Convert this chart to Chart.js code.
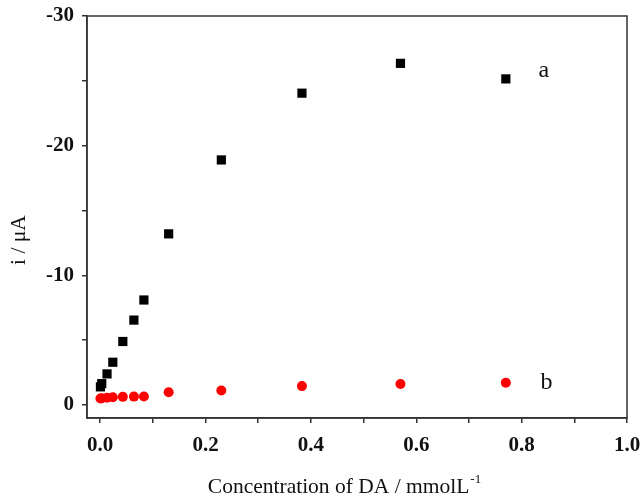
<!DOCTYPE html>
<html>
<head>
<meta charset="utf-8">
<script src="https://cdn.jsdelivr.net/npm/chart.js@4/dist/chart.umd.min.js"></script>
<style>
  body { margin: 0; background: #fff; }
</style>
</head>
<body>
<canvas id="chart" width="644" height="499"></canvas>
<script>
// Concentration of DA (mmol/L) and peak current (uA)
const concA = [0.0005, 0.003, 0.013, 0.024, 0.043, 0.064, 0.083, 0.13, 0.23, 0.383, 0.57, 0.77];
const currentA = [-1.4, -1.65, -2.4, -3.3, -4.9, -6.55, -8.1, -13.2, -18.9, -24.05, -26.35, -25.15];
const concB = [0.0005, 0.003, 0.013, 0.024, 0.043, 0.064, 0.083, 0.13, 0.23, 0.383, 0.57, 0.77];
const currentB = [-0.5, -0.52, -0.56, -0.6, -0.63, -0.65, -0.66, -0.98, -1.12, -1.46, -1.62, -1.72];

// axis ticks (major ones get labels)
const xTicks = [0, 0.1, 0.2, 0.3, 0.4, 0.5, 0.6, 0.7, 0.8, 0.9, 1.0];
const xLabels = [0, 0.2, 0.4, 0.6, 0.8, 1.0];
const yTicks = [-30, -25, -20, -15, -10, -5, 0];
const yLabels = [-30, -20, -10, 0];

// curve labels
const curveNames = ['a', 'b'];
const curveLabelPos = [[0.842, -25.9], [0.847, -1.85]];

const serif = "'Liberation Serif', 'Times New Roman', serif";

const toPoints = (xs, ys) => xs.map((v, i) => ({ x: v, y: ys[i] }));

const annotations = {
    id: 'annotations',
    afterDraw(chart) {
        const { ctx, chartArea: area, scales: { x, y } } = chart;
        ctx.save();

        // box around the plot
        ctx.strokeStyle = '#333';
        ctx.lineWidth = 1.5;
        ctx.strokeRect(area.left, area.top, area.right - area.left, area.bottom - area.top);

        ctx.fillStyle = '#111';
        ctx.textBaseline = 'alphabetic';

        // curve names
        ctx.font = '24px ' + serif;
        ctx.textAlign = 'center';
        curveNames.forEach((name, i) => {
            const [vx, vy] = curveLabelPos[i];
            ctx.fillText(name, x.getPixelForValue(vx), y.getPixelForValue(vy) + 8);
        });

        // x title with superscript
        const main = 'Concentration of DA / mmolL';
        const sup = '-1';
        ctx.font = '21.5px ' + serif;
        const w1 = ctx.measureText(main).width;
        ctx.font = '13px ' + serif;
        const w2 = ctx.measureText(sup).width;
        const cx = (area.left + area.right) / 2 - 13;
        const startX = cx - (w1 + w2) / 2;
        ctx.textAlign = 'left';
        ctx.font = '21.5px ' + serif;
        ctx.fillText(main, startX, 493);
        ctx.font = '13px ' + serif;
        ctx.fillText(sup, startX + w1 + 1, 483);

        // y title
        ctx.font = '21.5px ' + serif;
        ctx.translate(25, 240);
        ctx.rotate(-Math.PI / 2);
        ctx.textAlign = 'center';
        ctx.fillText('i / \u03bcA', 0, 0);

        ctx.restore();
    }
};

const ctx = document.getElementById('chart').getContext('2d');
new Chart(ctx, {
    type: 'scatter',
    data: {
        datasets: [
            {
                label: 'a',
                data: toPoints(concA, currentA),
                pointStyle: 'rect',
                pointRadius: 6.5,
                backgroundColor: '#000',
                borderColor: '#000',
                borderWidth: 0
            },
            {
                label: 'b',
                data: toPoints(concB, currentB),
                pointStyle: 'circle',
                pointRadius: 5,
                backgroundColor: '#f00',
                borderColor: '#f00',
                borderWidth: 0
            }
        ]
    },
    options: {
        responsive: false,
        animation: false,
        layout: { padding: { top: 16, right: 17, left: 0, bottom: 0 } },
        plugins: {
            legend: { display: false },
            tooltip: { enabled: false }
        },
        scales: {
            x: {
                type: 'linear',
                min: -0.025,
                max: 1.0,
                afterBuildTicks: (scale) => { scale.ticks = xTicks.map(v => ({ value: v })); },
                afterFit: (scale) => { scale.height = 81; scale.paddingLeft = 0; scale.paddingRight = 0; },
                border: { display: true, color: '#333', width: 1.5 },
                grid: { drawOnChartArea: false, drawTicks: true, tickLength: 5, color: '#333', lineWidth: 1.5 },
                ticks: {
                    autoSkip: false,
                    maxRotation: 0,
                    padding: 10,
                    color: '#111',
                    font: { family: serif, size: 21, weight: 'bold' },
                    callback: (v) => xLabels.some(l => Math.abs(l - v) < 1e-9) ? v.toFixed(1) : ''
                }
            },
            y: {
                type: 'linear',
                min: -30,
                max: 1,
                reverse: true,
                afterBuildTicks: (scale) => { scale.ticks = yTicks.map(v => ({ value: v })); },
                afterFit: (scale) => { scale.width = 87; scale.paddingTop = 0; scale.paddingBottom = 0; },
                border: { display: true, color: '#333', width: 1.5 },
                grid: { drawOnChartArea: false, drawTicks: true, tickLength: 5, color: '#333', lineWidth: 1.5 },
                ticks: {
                    autoSkip: false,
                    padding: 8,
                    color: '#111',
                    font: { family: serif, size: 21, weight: 'bold' },
                    callback: (v) => yLabels.includes(v) ? String(v) : ''
                }
            }
        }
    },
    plugins: [annotations]
});
</script>
</body>
</html>
